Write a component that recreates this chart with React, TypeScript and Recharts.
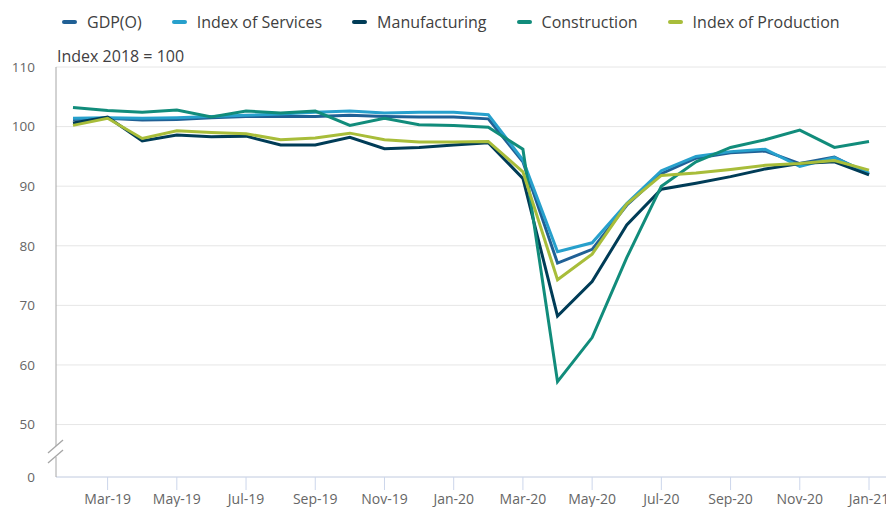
import React from 'react';
import { LineChart, Line, XAxis, YAxis, CartesianGrid } from 'recharts';

const months = [
  'Feb-19', 'Mar-19', 'Apr-19', 'May-19', 'Jun-19', 'Jul-19', 'Aug-19', 'Sep-19', 'Oct-19', 'Nov-19', 'Dec-19', 'Jan-20',
  'Feb-20', 'Mar-20', 'Apr-20', 'May-20', 'Jun-20', 'Jul-20', 'Aug-20', 'Sep-20', 'Oct-20', 'Nov-20', 'Dec-20', 'Jan-21',
];
const gdp = [101.2, 101.4, 101.1, 101.2, 101.5, 101.7, 101.7, 101.7, 101.9, 101.7, 101.6, 101.6, 101.3, 94.1, 77.1, 79.4, 86.8, 92.1, 94.7, 95.6, 95.9, 93.8, 94.9, 92.0];
const services = [101.4, 101.5, 101.4, 101.5, 101.7, 101.9, 102.1, 102.4, 102.6, 102.3, 102.4, 102.4, 102.0, 94.4, 79.0, 80.5, 87.1, 92.6, 95.0, 95.8, 96.2, 93.3, 94.8, 92.2];
const manufacturing = [100.6, 101.6, 97.6, 98.6, 98.3, 98.4, 96.9, 96.9, 98.2, 96.3, 96.5, 96.9, 97.3, 91.3, 68.2, 74.0, 83.5, 89.5, 90.5, 91.6, 92.9, 93.8, 94.1, 91.9];
const construction = [103.2, 102.7, 102.4, 102.8, 101.6, 102.6, 102.3, 102.6, 100.2, 101.4, 100.3, 100.2, 99.9, 96.2, 57.2, 64.6, 78.0, 90.0, 94.1, 96.5, 97.8, 99.4, 96.5, 97.5];
const production = [100.2, 101.4, 98.0, 99.3, 99.0, 98.8, 97.8, 98.1, 98.9, 97.8, 97.4, 97.4, 97.5, 92.4, 74.3, 78.6, 87.0, 91.8, 92.2, 92.8, 93.5, 93.8, 94.3, 92.7];

// Broken axis: the lowest tick stands for 0
const yTickValues = [41.2, 50, 60, 70, 80, 90, 100, 110];
const yTickLabels = ['0', '50', '60', '70', '80', '90', '100', '110'];
const xTickLabels = ['Mar-19', 'May-19', 'Jul-19', 'Sep-19', 'Nov-19', 'Jan-20', 'Mar-20', 'May-20', 'Jul-20', 'Sep-20', 'Nov-20', 'Jan-21'];

const series = [
  { key: 'gdp', name: 'GDP(O)', color: '#206095', values: gdp },
  { key: 'services', name: 'Index of Services', color: '#27a0cc', values: services },
  { key: 'manufacturing', name: 'Manufacturing', color: '#003c57', values: manufacturing },
  { key: 'construction', name: 'Construction', color: '#118c7b', values: construction },
  { key: 'production', name: 'Index of Production', color: '#a8bd3a', values: production },
];

const data = months.map((m, i) => {
  const row: Record<string, string | number> = { month: m };
  series.forEach((s) => { row[s.key] = s.values[i]; });
  return row;
});

const FONT = '"Open Sans", sans-serif';

const XTick = (props: any) => {
  const { x, y, payload } = props;
  if (!xTickLabels.includes(payload.value)) return null;
  return (
    <g>
      <line x1={x} x2={x} y1={y} y2={y + 13} stroke="#ccd6eb" strokeWidth={1} />
      <text x={x} y={y + 21} textAnchor="middle" dominantBaseline="central" fill="#666666" fontSize={14} fontFamily={FONT}>
        {payload.value}
      </text>
    </g>
  );
};

export default function App() {
  return (
    <div style={{ position: 'absolute', left: 0, top: 0, width: 886, height: 507, background: '#fff', fontFamily: FONT }}>
      <LineChart width={886} height={507} data={data} margin={{ top: 67, right: 0, bottom: 0, left: 0 }}>
        <CartesianGrid vertical={false} stroke="#e6e6e6" />
        <XAxis
          dataKey="month"
          type="category"
          padding={{ left: 17, right: 17 }}
          axisLine={{ stroke: '#ccd6eb' }}
          tickLine={false}
          tickSize={0}
          tickMargin={0}
          interval={0}
          height={30}
          tick={<XTick />}
        />
        <YAxis
          domain={[41.2, 110]}
          ticks={yTickValues}
          width={56}
          axisLine={{ stroke: '#a6a6a6' }}
          tickLine={false}
          tickSize={6}
          tickMargin={15}
          tickFormatter={(v: number) => yTickLabels[yTickValues.indexOf(v)] ?? ''}
          tick={{ fill: '#666666', fontSize: 13.5, fontFamily: FONT }}
        />
        {series.map((s) => (
          <Line
            key={s.key}
            dataKey={s.key}
            name={s.name}
            stroke={s.color}
            strokeWidth={3}
            dot={false}
            activeDot={false}
            isAnimationActive={false}
          />
        ))}
      </LineChart>
      {/* axis break marker */}
      <svg style={{ position: 'absolute', left: 0, top: 0, pointerEvents: 'none' }} width={886} height={507}>
        <rect x={52} y={446} width={8} height={11} fill="#fff" />
        <line x1={48} y1={453} x2={63} y2={440} stroke="#a6a6a6" strokeWidth={1.3} />
        <line x1={48} y1={463} x2={63} y2={450} stroke="#a6a6a6" strokeWidth={1.3} />
      </svg>
      <div style={{ position: 'absolute', left: 57, top: 45, fontSize: 16, color: '#414042', whiteSpace: 'nowrap' }}>
        Index 2018 = 100
      </div>
      <div style={{ position: 'absolute', left: 62, top: 11, display: 'flex', alignItems: 'center', whiteSpace: 'nowrap' }}>
        {series.map((s, i) => (
          <div key={s.key} style={{ display: 'flex', alignItems: 'center', marginRight: i < series.length - 1 ? 30 : 0 }}>
            <div style={{ width: 15, height: 4, borderRadius: 2, background: s.color, marginRight: 10 }} />
            <span style={{ fontSize: 16, color: '#404040' }}>{s.name}</span>
          </div>
        ))}
      </div>
    </div>
  );
}
